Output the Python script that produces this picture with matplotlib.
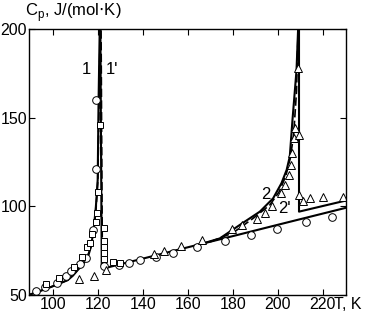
import numpy as np
import matplotlib.pyplot as plt

plt.rcParams['font.family'] = ['Liberation Sans', 'DejaVu Sans']

circ_T = [92.4, 96.4, 101.9, 106.1, 108.3, 112.0, 115.0, 117.9, 119.1, 119.3,
          122.7, 129.3, 133.9, 138.7, 146.1, 153.5, 164.1, 176.4, 188.3, 199.6,
          212.3, 224.1]
circ_C = [52.4, 54.7, 56.9, 60.5, 63.7, 67.5, 71.0, 86.6, 120.9, 160.0,
          66.3, 66.9, 67.8, 69.7, 71.6, 73.5, 76.9, 80.4, 83.6, 87.2,
          90.9, 94.0]

sq_T = [96.9, 102.8, 109.3, 113.0, 115.2, 116.4, 117.5, 119.1, 119.6, 120.3,
        120.9, 122.7, 122.7, 122.7, 122.8, 123.0, 126.8, 130.1]
sq_C = [56.2, 59.8, 65.6, 71.6, 76.9, 79.5, 84.4, 91.2, 96.4, 108.2,
        145.7, 87.6, 80.6, 76.9, 73.5, 70.1, 68.8, 68.2]

tri_T = [111.6, 118.4, 123.6, 144.9, 149.3, 156.8, 166.4, 179.7, 184.1, 190.8,
         194.5, 197.5, 201.2, 203.0, 204.9, 205.7, 206.1, 207.1, 207.6, 209.6,
         208.9, 209.6, 211.2, 214.5, 220.1, 229.0]
tri_C = [59.0, 60.9, 64.1, 73.1, 75.0, 77.6, 81.0, 87.0, 89.5, 93.0,
         96.4, 100.2, 107.3, 112.0, 117.7, 123.3, 129.9, 138.7, 144.3, 140.2,
         178.0, 106.4, 103.2, 104.5, 105.4, 105.1]

# calculated curves
c1_T = [89.3, 93.0, 97.8, 102.0, 106.7, 109.0, 111.1, 113.0, 114.8, 116.0,
        117.0, 118.2, 119.2, 120.0, 120.4, 120.9, 121.0, 121.2, 121.5, 121.8,
        122.7, 140.0, 160.0, 180.0, 200.0, 230.0]
c1_C = [50.0, 51.6, 53.8, 55.9, 58.4, 60.9, 64.0, 66.6, 69.7, 72.9,
        77.2, 86.6, 99.8, 114.8, 160.0, 200.0, 210.0, 200.0, 130.0, 66.0,
        65.0, 70.5, 76.9, 83.2, 89.6, 99.1]

c1p_T = [89.3, 97.8, 106.7, 111.1, 114.8, 117.0, 118.3, 119.3, 120.1, 120.6,
         121.1, 121.3, 121.5, 121.8, 122.1]
c1p_C = [50.0, 53.8, 58.4, 64.0, 69.7, 77.0, 86.0, 99.0, 115.0, 160.0,
         200.0, 210.0, 200.0, 130.0, 66.0]

c2_T = [165.0, 174.2, 183.1, 192.0, 197.9, 201.6, 203.9, 205.3, 206.5, 208.3,
        209.0, 209.2, 209.4, 209.4, 230.0]
c2_C = [78.4, 81.9, 89.5, 97.0, 104.5, 113.0, 120.5, 128.0, 148.7, 176.9,
        200.0, 210.0, 200.0, 97.0, 103.2]

c2p_T = [170.0, 180.0, 189.0, 196.4, 200.5, 203.5, 205.5, 207.0, 208.3, 209.0,
         209.3]
c2p_C = [80.0, 85.0, 93.2, 100.7, 108.0, 117.0, 127.0, 140.0, 165.0, 200.0,
         210.0]

fig = plt.figure(figsize=(3.68, 3.17), dpi=100)
ax = fig.add_axes([0.0788, 0.0694, 0.861, 0.8391])

ax.plot(c1_T, c1_C, color='black', lw=1.5)
ax.plot(c1p_T, c1p_C, color='black', lw=1.2, ls=(0, (5, 2)))
ax.plot(c2_T, c2_C, color='black', lw=1.5)
ax.plot(c2p_T, c2p_C, color='black', lw=1.2, ls=(0, (5, 2)))

mk = dict(ls='none', mfc='white', mec='black', mew=0.7)
ax.plot(circ_T, circ_C, marker='o', ms=5.5, **mk)
ax.plot(sq_T, sq_C, marker='s', ms=4.8, **mk)
ax.plot(tri_T, tri_C, marker='^', ms=5.5, **mk)

ax.set_xlim(89.5, 230.2)
ax.set_ylim(50, 200)
ax.set_xticks([100, 120, 140, 160, 180, 200, 220])
ax.set_yticks([50, 100, 150, 200])
ax.tick_params(direction='in', top=True, right=True, labelsize=11.5,
               length=4, width=0.8, pad=1.5)
for s in ax.spines.values():
    s.set_linewidth(1.0)

ax.text(115.2, 177, '1', fontsize=12, ha='center', va='center')
ax.text(126.5, 177, "1'", fontsize=12, ha='center', va='center')
ax.text(194.7, 106.5, '2', fontsize=12, ha='center', va='center')
ax.text(203.0, 98.5, "2'", fontsize=12, ha='center', va='center')

fig.text(0.068, 0.925, r'C$_\mathregular{p}$, J/(mol$\cdot$K)', fontsize=12,
         ha='left', va='bottom')
fig.text(0.908, 0.04, 'T, K', fontsize=11.5, ha='left', va='center')

fig.savefig('out.png', dpi=100)
